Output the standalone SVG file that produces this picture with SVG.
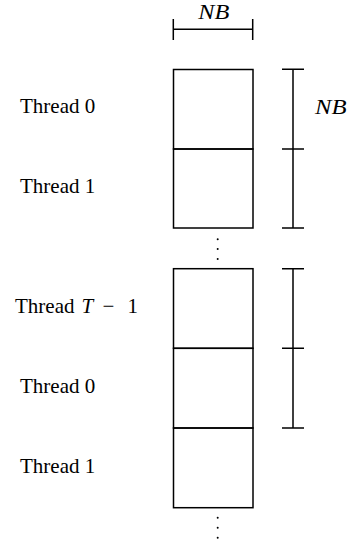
<svg xmlns="http://www.w3.org/2000/svg" width="352" height="542" viewBox="0 0 352 542">
<style>
.b{fill:none;stroke:#000;stroke-width:1.5}
.l{stroke:#000;stroke-width:1.5;fill:none}
.t{font-family:"Liberation Serif","Times New Roman",serif;font-size:21px;fill:#000}
.m{font-family:"Liberation Serif","Times New Roman",serif;font-size:20px;font-style:italic;fill:#000}
.d{fill:#000}
</style>
<rect width="352" height="542" fill="#fff"/>
<g id="blk0"><rect class="b" x="173.5" y="69.5" width="79.5" height="79.5"/><text class="t" x="20" y="113">Thread 0</text></g>
<g id="blk1"><rect class="b" x="173.5" y="149" width="79.5" height="79"/><text class="t" x="20" y="193">Thread 1</text></g>
<g id="blkT"><rect class="b" x="173.5" y="268.7" width="79.5" height="79.6"/><text class="t" x="15" y="313">Thread <tspan font-style="italic" x="81.5">T</tspan><tspan x="102.5">−</tspan><tspan x="127.5">1</tspan></text></g>
<g id="blk0b"><rect class="b" x="173.5" y="348.3" width="79.5" height="79.7"/><text class="t" x="20" y="393">Thread 0</text></g>
<g id="blk1b"><rect class="b" x="173.5" y="428" width="79.5" height="79.7"/><text class="t" x="20" y="473">Thread 1</text></g>
<g id="connectors">
<path class="l" d="M173.3 29.3H252.7M173.3 19V40M252.7 19V40"/>
<path class="l" d="M293 69.3V228M282 69.3H304M282 149H304M282 228H304"/>
<path class="l" d="M293 268.7V428M282 268.7H304M282 348.3H304M282 428H304"/>
</g>
<g id="labels">
<text class="m" x="198.3" y="19" textLength="31" lengthAdjust="spacingAndGlyphs">NB</text>
<text class="m" x="315" y="114" textLength="31.5" lengthAdjust="spacingAndGlyphs">NB</text>
</g>
<g id="dots">
<circle class="d" cx="217.7" cy="239.3" r="1"/><circle class="d" cx="217.7" cy="249" r="1"/><circle class="d" cx="217.7" cy="259" r="1"/>
<circle class="d" cx="217.7" cy="517.7" r="1"/><circle class="d" cx="217.7" cy="527.7" r="1"/><circle class="d" cx="217.7" cy="537.7" r="1"/>
</g>
</svg>
